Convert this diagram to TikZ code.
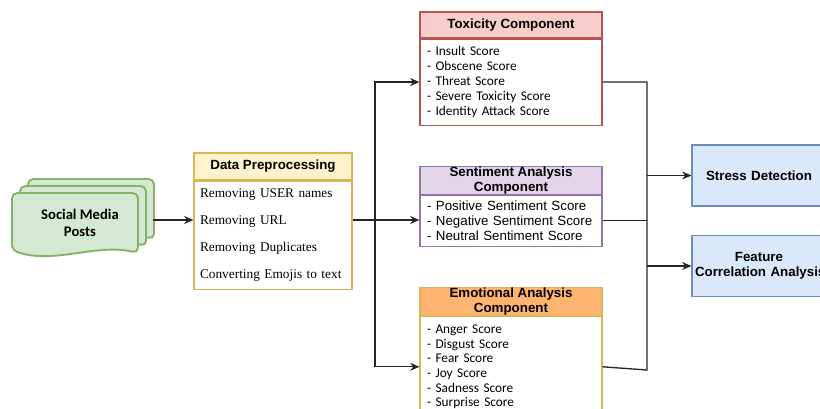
\documentclass[tikz,border=0pt]{standalone}
\usepackage{fontspec}
\setmainfont{Liberation Serif}
\setsansfont{Liberation Sans}
\newfontfamily\calibri{Carlito}
\usepackage{tikz}
\usetikzlibrary{arrows.meta,positioning}

\definecolor{docfill}{HTML}{D5E8D4}
\definecolor{docline}{HTML}{82B366}
\definecolor{prepfill}{HTML}{FFF2CC}
\definecolor{prepline}{HTML}{D6B656}
\definecolor{toxfill}{HTML}{F8CECC}
\definecolor{toxline}{HTML}{B85450}
\definecolor{sentfill}{HTML}{E1D5E7}
\definecolor{sentline}{HTML}{9673A6}
\definecolor{emofill}{HTML}{FFB570}
\definecolor{outfill}{HTML}{DAE8FC}
\definecolor{outline}{HTML}{6C8EBF}

\begin{document}
\begin{tikzpicture}[x=0.75pt, y=-0.75pt, line width=0.8pt]
    % Styles
    \tikzstyle{doc}=[draw=docline, fill=docfill, line width=1.4pt, rounded corners=4pt]
    \tikzstyle{header}=[rectangle, draw, inner sep=0pt, text centered, align=center,
        font=\sffamily\bfseries\fontsize{10}{11.25}\selectfont]
    \tikzstyle{body}=[rectangle, draw, fill=white, inner ysep=0pt, align=left]
    \tikzstyle{result}=[rectangle, draw=outline, fill=outfill, minimum width=100.5pt,
        minimum height=45.75pt, text width=96pt, inner xsep=2.25pt, align=center,
        font=\sffamily\bfseries\fontsize{10}{11.25}\selectfont]
    \tikzstyle{line}=[line width=1pt, draw=black!85]
    \tikzstyle{arrow}=[line, -{Stealth[length=7pt,width=6pt]}]

    \useasboundingbox (0,0) rectangle (820,408);
    \clip (0,0) rectangle (820,408);

    % Social media posts (stacked documents)
    \foreach \x/\y in {28/179, 20/186, 12/193}
        \draw[doc] (\x,\y+57) -- (\x,\y) -- (\x+126,\y) -- (\x+126,\y+60)
            .. controls (\x+85,\y+50) and (\x+40,\y+72) .. (\x,\y+57) -- cycle;
    \node (posts) at (80,223) [align=center, font=\calibri\bfseries\fontsize{11}{12.75}\selectfont]
        {Social Media\\Posts};
    \coordinate (postsout) at (153,220);

    % Data preprocessing
    \node (dph) at (273,166.5) [header, draw=prepline, fill=prepfill,
        minimum width=118.5pt, minimum height=20.25pt] {Data Preprocessing};
    \node (dpb) [body, draw=prepline, below=0pt of dph, minimum height=81pt,
        text width=109.5pt, inner xsep=4.5pt, font=\rmfamily\fontsize{10}{20.25}\selectfont]
        {Removing USER names\\Removing URL\\Removing Duplicates\\Converting Emojis to text};

    % Components
    \node (toxh) at (511,25) [header, draw=toxline, fill=toxfill,
        minimum width=136.5pt, minimum height=19.5pt] {Toxicity Component};
    \node (toxb) [body, draw=toxline, below=0pt of toxh, minimum height=64.5pt,
        text width=126pt, inner xsep=5.25pt, font=\calibri\fontsize{10}{11.25}\selectfont]
        {- Insult Score\\- Obscene Score\\- Threat Score\\- Severe Toxicity Score\\- Identity Attack Score};

    \node (senth) at (511,180.5) [header, draw=sentline, fill=sentfill,
        minimum width=136.5pt, minimum height=20.25pt] {Sentiment Analysis\\Component};
    \node (sentb) [body, draw=sentline, below=0pt of senth, minimum height=38.25pt,
        text width=126pt, inner xsep=5.25pt, font=\sffamily\fontsize{10}{11.25}\selectfont]
        {- Positive Sentiment Score\\- Negative Sentiment Score\\- Neutral Sentiment Score};

    \node (emoh) at (511,301.5) [header, draw=prepline, fill=emofill,
        minimum width=136.5pt, minimum height=20.25pt] {Emotional Analysis\\Component};
    \node (emob) [body, draw=prepline, below=0pt of emoh, minimum height=75.75pt,
        text width=126pt, inner xsep=5.25pt, font=\calibri\fontsize{10}{11}\selectfont]
        {- Anger Score\\- Disgust Score\\- Fear Score\\- Joy Score\\- Sadness Score\\- Surprise Score};

    % Outputs
    \node (stress) at (759,175.5) [result] {Stress Detection};
    \node (feature) at (759,266) [result] {Feature\\\mbox{Correlation Analysis}};

    % Connections
    \coordinate (lbus) at (375,220);
    \coordinate (rbot) at (647,370);
    \draw [arrow] (postsout) -- (dpb.west |- postsout);
    \draw [line] (dpb.east |- lbus) -- (lbus);
    \draw [arrow] (lbus) |- (toxb.west);
    \draw [arrow] (lbus) -- (sentb.west |- lbus);
    \draw [arrow] (lbus) |- (emob.west);
    \draw [line] (toxb.east) -| (rbot) -- (emob.east);
    \draw [line] (sentb.east) -- (sentb.east -| rbot);
    \draw [arrow] (stress.west -| rbot) -- (stress.west);
    \draw [arrow] (feature.west -| rbot) -- (feature.west);

\end{tikzpicture}
\end{document}
